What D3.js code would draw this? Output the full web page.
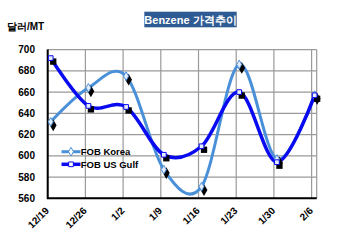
<!DOCTYPE html>
<html>
<head>
<meta charset="utf-8">
<script src="https://cdn.jsdelivr.net/npm/d3@7"></script>
<style>
  body { margin: 0; background: #fff; }
  svg { display: block; font-family: "Liberation Sans", Arial, sans-serif; }
</style>
</head>
<body>
<div id="chart"></div>
<script>
// weekly dates on the x axis
const dates = ['12/19', '12/26', '1/2', '1/9', '1/16', '1/23', '1/30', '2/6'];
const korea = [632, 664, 675, 587, 571, 686, 597, 657];
const gulf = [692, 647, 646, 601, 609, 660, 594, 657];
const yTicks = [560, 580, 600, 620, 640, 660, 680, 700];

const W = 350, H = 246;
const plot = { left: 47.7, right: 316.7, top: 49.6, bottom: 198.3 };
const ptShift = 0.08; // points sit a little right of the week lines

const svg = d3.select('#chart').append('svg')
    .attr('width', W).attr('height', H);

const x = d3.scaleLinear().domain([0, 7.135]).range([plot.left, plot.right]);
const y = d3.scaleLinear().domain([560, 700]).range([plot.bottom, plot.top]);

// grid
const grid = svg.append('g').attr('stroke', '#9a9a9a').attr('stroke-width', 1.2);
grid.selectAll('.h').data(yTicks).enter().append('line')
    .attr('x1', plot.left).attr('x2', plot.right)
    .attr('y1', d => y(d)).attr('y2', d => y(d));
grid.selectAll('.v').data(dates).enter().append('line')
    .attr('x1', (d, i) => x(i)).attr('x2', (d, i) => x(i))
    .attr('y1', plot.top).attr('y2', plot.bottom);
grid.append('line')
    .attr('x1', plot.right).attr('x2', plot.right)
    .attr('y1', plot.top).attr('y2', plot.bottom);

// axes lines
svg.append('path')
    .attr('d', `M${plot.left},${plot.top}V${plot.bottom}H${plot.right}`)
    .attr('fill', 'none').attr('stroke', '#000').attr('stroke-width', 2);

// y labels
svg.selectAll('.ylab').data(yTicks).enter().append('text')
    .attr('x', 35).attr('y', d => y(d)).attr('dy', '0.35em')
    .attr('text-anchor', 'end')
    .attr('font-size', 10).attr('font-weight', 'bold')
    .text(d => d);

// x labels
svg.selectAll('.xlab').data(dates).enter().append('text')
    .attr('transform', (d, i) => `translate(${x(i) + 2},${plot.bottom + 13}) rotate(-45)`)
    .attr('text-anchor', 'end')
    .attr('font-size', 10).attr('font-weight', 'bold')
    .text(d => d);

// unit + title
svg.append('text')
    .attr('x', 7).attr('y', 30)
    .attr('font-size', 10).attr('font-weight', 'bold')
    .text('달러/MT');

svg.append('rect')
    .attr('x', 144.3).attr('y', 11.7).attr('width', 92.4).attr('height', 15.6)
    .attr('fill', '#2f5b94');
svg.append('text')
    .attr('x', 190.5).attr('y', 23.7)
    .attr('text-anchor', 'middle')
    .attr('fill', '#fff').attr('font-size', 11).attr('font-weight', 'bold')
    .text('Benzene 가격추이');

// lines
const line = d3.line()
    .x((d, i) => x(i + ptShift))
    .y(d => y(d))
    .curve(d3.curveCardinal.tension(0));

const series = [
    { name: 'FOB Korea', values: korea, color: '#4a90d9', width: 3, shape: d3.symbolDiamond },
    { name: 'FOB US Gulf', values: gulf, color: '#0a0af0', width: 3.5, shape: d3.symbolSquare }
];

series.forEach(s => {
    svg.append('path')
        .attr('d', line(s.values))
        .attr('fill', 'none')
        .attr('stroke', s.color)
        .attr('stroke-width', s.width);
});

// marker shadows, then the markers
series.forEach(s => {
    svg.selectAll(null).data(s.values).enter().append('path')
        .attr('d', d3.symbol().type(s.shape).size(40))
        .attr('transform', (d, i) => `translate(${x(i + ptShift) + 2.5},${y(d) + 3.5})`)
        .attr('fill', '#000');
    svg.selectAll(null).data(s.values).enter().append('path')
        .attr('d', d3.symbol().type(s.shape).size(22))
        .attr('transform', (d, i) => `translate(${x(i + ptShift)},${y(d)})`)
        .attr('fill', '#e8eefc').attr('stroke', s.color).attr('stroke-width', 1);
});

// legend
const legend = svg.append('g');
series.forEach((s, i) => {
    const ly = 151.7 + i * 12.6;
    legend.append('line')
        .attr('x1', 61.5).attr('x2', 80.5).attr('y1', ly).attr('y2', ly)
        .attr('stroke', s.color).attr('stroke-width', s.width);
    legend.append('path')
        .attr('d', d3.symbol().type(s.shape).size(22))
        .attr('transform', `translate(71,${ly})`)
        .attr('fill', '#fff').attr('stroke', s.color).attr('stroke-width', 1);
    legend.append('text')
        .attr('x', 80.7).attr('y', ly).attr('dy', '0.36em')
        .attr('font-size', 9.5).attr('font-weight', 'bold')
        .text(s.name);
});
</script>
</body>
</html>
